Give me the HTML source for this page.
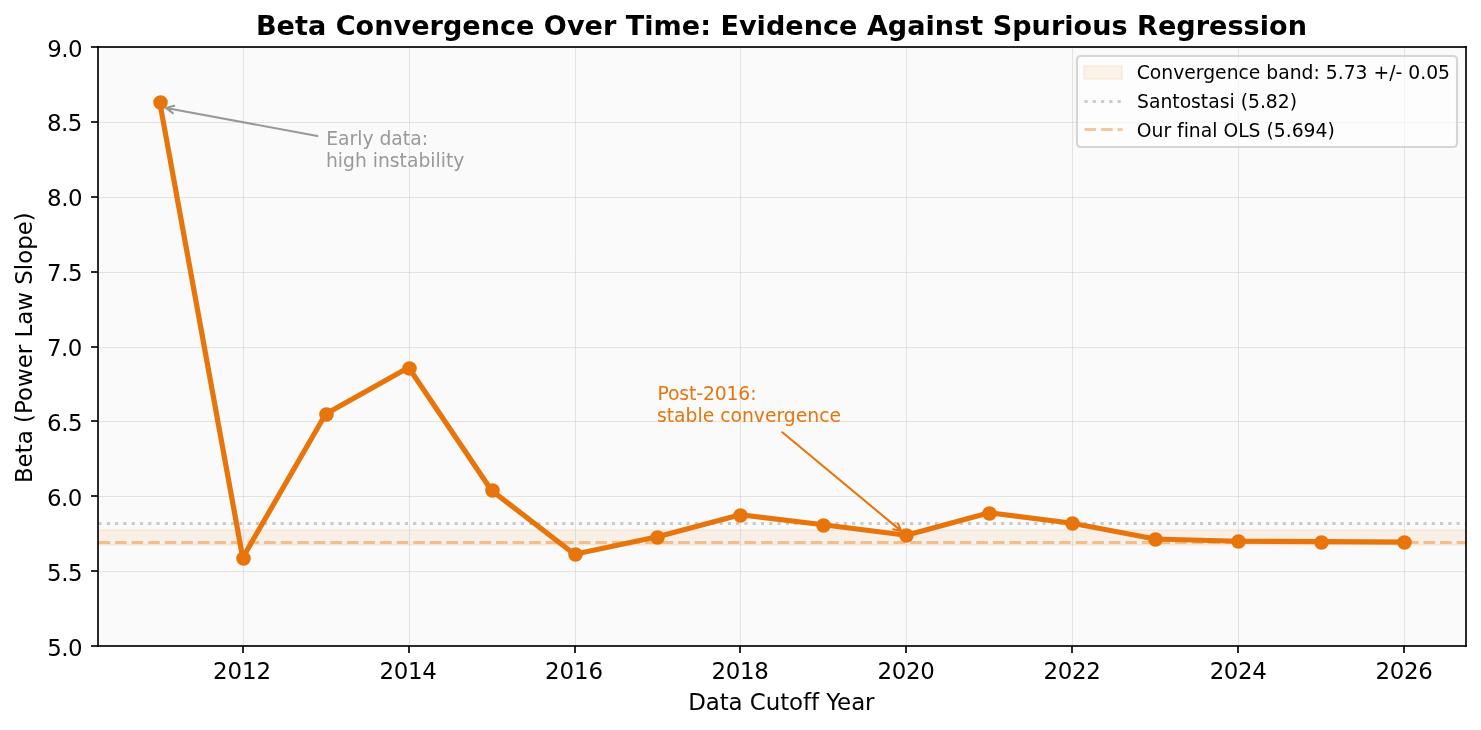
<!DOCTYPE html>
<html lang="en">
<head>
<meta charset="utf-8">
<title>Beta Convergence Over Time: Evidence Against Spurious Regression</title>
<style>
html,body{margin:0;padding:0;background:#ffffff;}
body{width:1481px;height:730px;overflow:hidden;}
svg text{white-space:pre;font-variant-ligatures:none;font-feature-settings:"liga" 0,"clig" 0,"dlig" 0;font-kerning:normal;}
</style>
</head>
<body>
<svg width="1481" height="730" viewBox="0 0 1481 730" style="display:block">
<defs><clipPath id="axclip"><rect x="97.542" y="47" width="1368.708" height="599.083"/></clipPath></defs>
<rect x="0" y="0" width="1481" height="730" fill="#ffffff"/>
<rect x="98" y="47" width="1368" height="599" fill="#fafafa"/>
<g clip-path="url(#axclip)">
<rect x="98" y="530" width="1368" height="15" fill="#e7750b" fill-opacity="0.08" stroke="#e7750b" stroke-opacity="0.08" stroke-width="2.083"/>
<g fill="none" stroke="#b0b0b0" stroke-opacity="0.3" stroke-width="1.042"><path d="M243.5 46.479V646.521M409.5 46.479V646.521M575.5 46.479V646.521M740.5 46.479V646.521M906.5 46.479V646.521M1072.5 46.479V646.521M1238.5 46.479V646.521M1404.5 46.479V646.521"/><path d="M97.479 646.5H1466.521M97.479 571.5H1466.521M97.479 496.5H1466.521M97.479 421.5H1466.521M97.479 347.5H1466.521M97.479 272.5H1466.521M97.479 197.5H1466.521M97.479 122.5H1466.521M97.479 47.5H1466.521"/></g>
<path d="M98.5 523.5H1466.5" fill="none" stroke="#999999" stroke-opacity="0.5" stroke-width="3.125" stroke-dasharray="3.125 5.156"/>
<path d="M98.5 542.5H1466.5" fill="none" stroke="#e7750b" stroke-opacity="0.4" stroke-width="3.125" stroke-dasharray="11.563 5"/>
<polyline points="159.756,102.415 242.708,557.719 325.66,413.939 408.612,367.51 491.564,490.471 574.516,554.274 657.468,536.751 740.42,514.734 823.372,524.769 906.324,535.253 989.276,512.787 1072.228,523.271 1155.18,538.997 1238.132,541.244 1321.084,541.693 1404.036,542.142" fill="none" stroke="#e7750b" stroke-width="5.208" stroke-linejoin="round" stroke-linecap="square"/>
<g fill="#e7750b" stroke="#e7750b" stroke-width="2.083"><circle cx="160.5" cy="102.5" r="6.25"/><circle cx="243.5" cy="558.5" r="6.25"/><circle cx="326.5" cy="414.5" r="6.25"/><circle cx="409.5" cy="368.5" r="6.25"/><circle cx="492.5" cy="490.5" r="6.25"/><circle cx="575.5" cy="554.5" r="6.25"/><circle cx="657.5" cy="537.5" r="6.25"/><circle cx="740.5" cy="515.5" r="6.25"/><circle cx="823.5" cy="525.5" r="6.25"/><circle cx="906.5" cy="535.5" r="6.25"/><circle cx="989.5" cy="513.5" r="6.25"/><circle cx="1072.5" cy="523.5" r="6.25"/><circle cx="1155.5" cy="539.5" r="6.25"/><circle cx="1238.5" cy="541.5" r="6.25"/><circle cx="1321.5" cy="542.5" r="6.25"/><circle cx="1404.5" cy="542.5" r="6.25"/></g>
</g>
<g fill="#000" fill-opacity="0.833"><rect x="97" y="46.167" width="2" height="600.667"/><rect x="1465" y="46.167" width="2" height="600.667"/><rect x="97.167" y="645" width="1369.667" height="2"/><rect x="97.167" y="46" width="1369.667" height="2"/><rect x="242" y="646" width="2" height="7"/><rect x="408" y="646" width="2" height="7"/><rect x="574" y="646" width="2" height="7"/><rect x="739" y="646" width="2" height="7"/><rect x="905" y="646" width="2" height="7"/><rect x="1071" y="646" width="2" height="7"/><rect x="1237" y="646" width="2" height="7"/><rect x="1403" y="646" width="2" height="7"/><rect x="91" y="645" width="7" height="2"/><rect x="91" y="570" width="7" height="2"/><rect x="91" y="495" width="7" height="2"/><rect x="91" y="420" width="7" height="2"/><rect x="91" y="346" width="7" height="2"/><rect x="91" y="271" width="7" height="2"/><rect x="91" y="196" width="7" height="2"/><rect x="91" y="121" width="7" height="2"/><rect x="91" y="46" width="7" height="2"/></g>
<path d="M317.393 136.023Q240.621 121.844 166.14 108.087M172.834 113.137L166.14 108.087L174.196 105.762" fill="none" stroke="#999999" stroke-width="2.083" stroke-linecap="round" stroke-linejoin="round"/>
<path d="M782.308 432.254Q842.713 482.422 901.326 531.102M897.953 523.426L901.326 531.102L893.161 529.195" fill="none" stroke="#e7750b" stroke-width="2.083" stroke-linecap="round" stroke-linejoin="round"/>
<path d="M1081 147L1453 147Q1457 147 1457 143L1457 60Q1457 56 1453 56L1081 56Q1077 56 1077 60L1077 143Q1077 147 1081 147Z" fill="#ffffff" fill-opacity="0.6" stroke="#cccccc" stroke-opacity="0.8" stroke-width="2.083" stroke-linejoin="miter"/>
<rect x="1084" y="66" width="38" height="13" fill="#e7750b" fill-opacity="0.08" stroke="#e7750b" stroke-opacity="0.08" stroke-width="2.083"/>
<path d="M1084.5 101.5H1122.5" fill="none" stroke="#999999" stroke-opacity="0.5" stroke-width="3.125" stroke-dasharray="3.125 5.156"/>
<path d="M1084.5 129.5H1122.5" fill="none" stroke="#e7750b" stroke-opacity="0.4" stroke-width="3.125" stroke-dasharray="11.563 5"/>
<g font-family="'DejaVu Sans', 'Liberation Sans', sans-serif">
<text font-size="22.917" x="212.895" y="678.667">2012</text>
<text font-size="22.917" textLength="57.3" lengthAdjust="spacing" x="379.549" y="678.667">2014</text>
<text font-size="22.917" x="544.891" y="678.667">2016</text>
<text font-size="22.917" textLength="57.3" lengthAdjust="spacing" x="711.607" y="678.667">2018</text>
<text font-size="22.917" textLength="57.3" lengthAdjust="spacing" x="877.574" y="678.667">2020</text>
<text font-size="22.917" textLength="57.3" lengthAdjust="spacing" x="1043.478" y="678.667">2022</text>
<text font-size="22.917" textLength="57.3" lengthAdjust="spacing" x="1209.632" y="678.667">2024</text>
<text font-size="22.917" textLength="57.3" lengthAdjust="spacing" x="1375.473" y="678.667">2026</text>
<text font-size="22.917" textLength="186.39" lengthAdjust="spacing" x="688.146" y="709.5">Data Cutoff Year</text>
<text font-size="22.917" textLength="35.44" lengthAdjust="spacing" x="47.208" y="655.583">5.0</text>
<text font-size="22.917" textLength="35.44" lengthAdjust="spacing" x="47.083" y="580.698">5.5</text>
<text font-size="22.917" textLength="35.44" lengthAdjust="spacing" x="46.958" y="505.813">6.0</text>
<text font-size="22.917" textLength="35.44" lengthAdjust="spacing" x="47.083" y="430.927">6.5</text>
<text font-size="22.917" textLength="35.44" lengthAdjust="spacing" x="46.958" y="355.542">7.0</text>
<text font-size="22.917" textLength="35.44" lengthAdjust="spacing" x="47.083" y="280.656">7.5</text>
<text font-size="22.917" textLength="35.44" lengthAdjust="spacing" x="47.083" y="205.771">8.0</text>
<text font-size="22.917" textLength="35.44" lengthAdjust="spacing" x="46.958" y="130.885">8.5</text>
<text font-size="22.917" textLength="35.44" lengthAdjust="spacing" x="47.208" y="56.5">9.0</text>
<text font-size="22.917" transform="translate(31.75 483.104) rotate(-90)">Beta (Power Law Slope)</text>
<text font-size="18.75" fill="#999999" x="326.16" y="144.817">Early data:</text>
<text font-size="18.75" fill="#999999" x="325.91" y="166.817">high instability</text>
<text font-size="18.75" fill="#e7750b" textLength="99.03" lengthAdjust="spacing" x="657.468" y="399.927">Post-2016:</text>
<text font-size="18.75" fill="#e7750b" x="656.968" y="421.927">stable convergence</text>
<text font-size="27.083" font-weight="bold" textLength="1050.95" lengthAdjust="spacing" x="255.958" y="34.5">Beta Convergence Over Time: Evidence Against Spurious Regression</text>
<text font-size="18.75" x="1136.75" y="78.875">Convergence band: 5.73 +/- 0.05</text>
<text font-size="18.75" x="1137" y="107.75">Santostasi (5.82)</text>
<text font-size="18.75" x="1136.75" y="136.625">Our final OLS (5.694)</text>
</g>
</svg>
</body>
</html>
